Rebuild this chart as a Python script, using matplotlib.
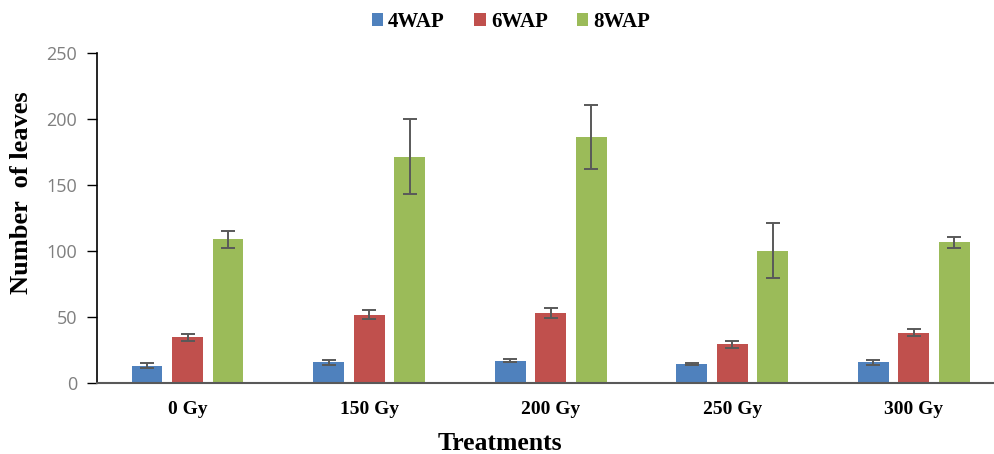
import numpy as np
import matplotlib.pyplot as plt

# values
treatments = ['0 Gy', '150 Gy', '200 Gy', '250 Gy', '300 Gy']
series = ['4WAP', '6WAP', '8WAP']
wap4 = [12.9, 15.5, 16.7, 14.2, 15.5]
wap4_err = [2.0, 2.0, 1.0, 1.0, 2.0]
wap6 = [34.4, 51.6, 52.7, 29.1, 38.0]
wap6_err = [2.8, 3.3, 3.8, 2.7, 2.6]
wap8 = [109.0, 171.5, 186.5, 100.2, 106.5]
wap8_err = [6.5, 28.6, 24.6, 21.0, 4.0]
yticks = [0, 50, 100, 150, 200, 250]

colors = ['#4F81BD', '#C0504D', '#9BBB59']
serif = ['Liberation Serif', 'DejaVu Serif']

fig = plt.figure(figsize=(9.94, 4.54), dpi=100)
# axes run past the right edge, the reference is cropped there
ax = fig.add_axes([96.7 / 994, 1 - 382.7 / 454, 908 / 994, 329.4 / 454])

x = np.arange(len(treatments))
pitch = 0.223
width = 0.17
for i, (vals, errs) in enumerate([(wap4, wap4_err), (wap6, wap6_err), (wap8, wap8_err)]):
    ax.bar(x + (i - 1) * pitch, vals, width, color=colors[i], label=series[i],
           yerr=errs, capsize=5, zorder=2,
           error_kw=dict(ecolor='#595959', elinewidth=1.4, capthick=1.4))

ax.set_xlim(-0.5, len(treatments) - 0.5)
ax.set_ylim(0, 250)
ax.set_yticks(yticks)
ax.tick_params(axis='y', direction='out', length=7, width=1, colors='black',
               labelcolor='#7f7f7f', labelsize=13, pad=7)
ax.tick_params(axis='x', length=0, pad=13)
ax.set_xticks(x)
ax.set_xticklabels(treatments, fontfamily=serif, fontweight='bold', fontsize=14)
for lbl in ax.get_yticklabels():
    lbl.set_fontfamily(['Open Sans', 'DejaVu Sans'])

for s in ['top', 'right']:
    ax.spines[s].set_visible(False)
ax.spines['left'].set_color('black')
ax.spines['left'].set_linewidth(1.2)
ax.spines['bottom'].set_color('#595959')
ax.spines['bottom'].set_linewidth(1.5)

ax.set_ylabel('Number  of leaves', fontfamily=serif, fontweight='bold', fontsize=19)
ax.yaxis.set_label_coords(-0.070, 0.576)
fig.text(500 / 994, 1 - 444 / 454, 'Treatments', ha='center', va='center',
         fontfamily=serif, fontweight='bold', fontsize=18.5)

fig.legend(loc='center', bbox_to_anchor=(511 / 994, 1 - 22 / 454), ncol=3, frameon=False,
           prop=dict(family=serif, weight='bold', size=15),
           handlelength=0.55, handleheight=0.55, handletextpad=0.25, columnspacing=1.4)

fig.savefig('out.png', dpi=100)
